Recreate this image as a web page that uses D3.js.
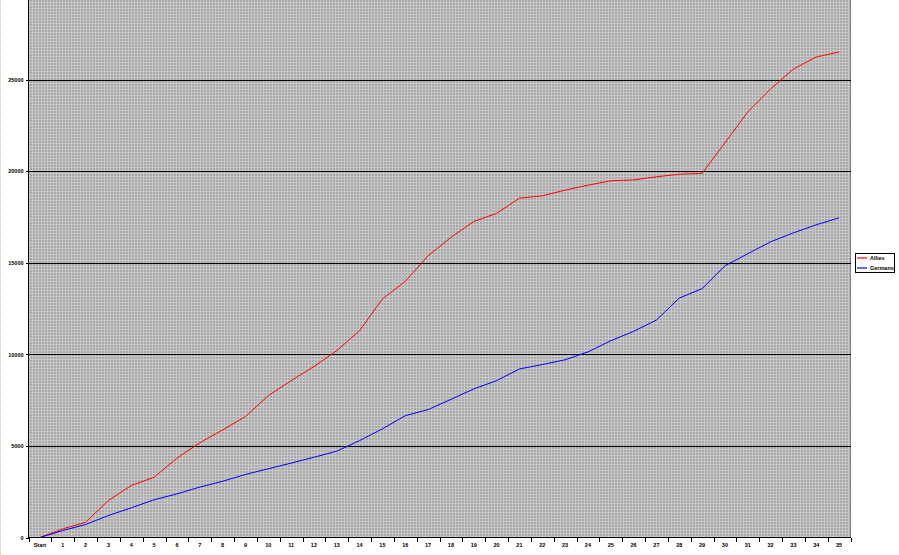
<!DOCTYPE html>
<html>
<head>
<meta charset="utf-8">
<script src="https://cdn.jsdelivr.net/npm/d3@7"></script>
<style>
  html, body { margin: 0; padding: 0; background: #ffffff; }
  svg { display: block; }
  text { font-family: "Liberation Sans", Arial, sans-serif; font-weight: bold; }
</style>
</head>
<body>
<svg id="chart" width="899" height="555"></svg>
<script>
const categories = ["Start","1","2","3","4","5","6","7","8","9","10","11","12","13","14","15","16","17","18","19","20","21","22","23","24","25","26","27","28","29","30","31","32","33","34","35"];
const allies = [0, 470, 830, 2020, 2840, 3290, 4330, 5170, 5870, 6600, 7740, 8560, 9330, 10200, 11290, 13020, 13980, 15380, 16380, 17250, 17690, 18520, 18650, 18960, 19230, 19470, 19520, 19690, 19830, 19880, 21540, 23230, 24480, 25570, 26230, 26500];
const germans = [0, 380, 710, 1200, 1620, 2060, 2380, 2750, 3070, 3440, 3750, 4060, 4380, 4710, 5290, 5930, 6650, 6980, 7540, 8110, 8560, 9200, 9440, 9700, 10130, 10740, 11250, 11870, 13070, 13580, 14830, 15490, 16140, 16630, 17070, 17450];
const yTicks = [0, 5000, 10000, 15000, 20000, 25000];
const seriesNames = ["Allies", "Germans"];
const seriesColors = ["#ff0000", "#0000ff"];

const svg = d3.select("#chart");
const plot = { left: 28.5, right: 850.5, top: 0, bottom: 537.5 };

const x = d3.scaleBand().domain(categories).range([plot.left, plot.right]).padding(0);
const y = d3.scaleLinear().domain([0, 25000]).range([plot.bottom, 79.5]);

// pattern background
const defs = svg.append("defs");
const pat = defs.append("pattern").attr("id", "dots").attr("patternUnits", "userSpaceOnUse")
  .attr("width", 3).attr("height", 3);
pat.append("rect").attr("width", 3).attr("height", 3).attr("fill", "#c8c8c8");
pat.append("rect").attr("x", 0).attr("y", 0).attr("width", 2).attr("height", 2).attr("fill", "#a8a8a8");
defs.append("clipPath").attr("id", "clip").append("rect")
  .attr("x", plot.left).attr("y", plot.top)
  .attr("width", plot.right - plot.left).attr("height", plot.bottom - plot.top);

// left edge dotted strip
svg.append("line").attr("x1", 0.5).attr("x2", 0.5).attr("y1", 0).attr("y2", 555)
  .attr("stroke", "#c8c890").attr("stroke-dasharray", "1,1");

svg.append("rect").attr("x", plot.left).attr("y", plot.top)
  .attr("width", plot.right - plot.left).attr("height", plot.bottom - plot.top)
  .attr("fill", "url(#dots)");

// right border
svg.append("line").attr("x1", plot.right).attr("x2", plot.right)
  .attr("y1", plot.top).attr("y2", plot.bottom).attr("stroke", "#808080");

// gridlines
svg.append("g").selectAll("line").data(yTicks.filter(d => d > 0)).join("line")
  .attr("x1", plot.left).attr("x2", plot.right)
  .attr("y1", d => Math.round(y(d)) + 0.5).attr("y2", d => Math.round(y(d)) + 0.5)
  .attr("stroke", "#000").attr("stroke-width", 1).attr("shape-rendering", "crispEdges");

// y axis
const yAxis = d3.axisLeft(y).tickValues(yTicks).tickSize(3).tickSizeOuter(0).tickPadding(2)
  .tickFormat(d3.format("d"));
const gy = svg.append("g").attr("transform", `translate(${plot.left},0)`).call(yAxis);
gy.select(".domain").remove();
gy.selectAll(".tick line").attr("stroke", "#000").attr("shape-rendering", "crispEdges");
gy.selectAll(".tick text").attr("font-size", "5.5px").attr("fill", "#000")
  .attr("font-family", "Liberation Sans, Arial, sans-serif").attr("font-weight", "bold");
svg.append("line").attr("x1", plot.left).attr("x2", plot.left)
  .attr("y1", plot.top).attr("y2", plot.bottom + 0.5).attr("stroke", "#000")
  .attr("shape-rendering", "crispEdges");

// x axis
const xAxis = d3.axisBottom(x).tickSize(0).tickSizeOuter(0).tickPadding(6);
const gx = svg.append("g").attr("transform", `translate(0,${plot.bottom})`).call(xAxis);
gx.select(".domain").remove();
gx.selectAll(".tick text").attr("font-size", "5.5px").attr("fill", "#000")
  .attr("font-family", "Liberation Sans, Arial, sans-serif").attr("font-weight", "bold");
const bounds = categories.map(c => x(c)).concat([x(categories[categories.length - 1]) + x.bandwidth()]);
svg.append("g").selectAll("line").data(bounds).join("line")
  .attr("x1", d => Math.round(d) + 0.5).attr("x2", d => Math.round(d) + 0.5)
  .attr("y1", plot.bottom).attr("y2", plot.bottom + 4)
  .attr("stroke", "#000").attr("shape-rendering", "crispEdges");
svg.append("line").attr("x1", plot.left).attr("x2", plot.right)
  .attr("y1", plot.bottom).attr("y2", plot.bottom).attr("stroke", "#000")
  .attr("shape-rendering", "crispEdges");

// lines
const line = d3.line().x((d, i) => x(categories[i]) + x.bandwidth() / 2).y(d => y(d));
const lg = svg.append("g").attr("clip-path", "url(#clip)");
[allies, germans].forEach((s, k) => {
  lg.append("path").datum(s).attr("d", line).attr("fill", "none")
    .attr("stroke", seriesColors[k]).attr("stroke-width", 1);
});

// legend
const leg = svg.append("g");
leg.append("rect").attr("x", 855.5).attr("y", 253.5).attr("width", 39).attr("height", 19)
  .attr("fill", "#fff").attr("stroke", "#000");
seriesNames.forEach((n, k) => {
  const yy = 258 + k * 10;
  leg.append("line").attr("x1", 857).attr("x2", 867).attr("y1", yy).attr("y2", yy)
    .attr("stroke", seriesColors[k]).attr("stroke-width", 1.2);
  leg.append("text").attr("x", 870).attr("y", yy + 2).attr("font-size", "5.5px")
    .attr("fill", "#000").text(n);
});
</script>
</body>
</html>
